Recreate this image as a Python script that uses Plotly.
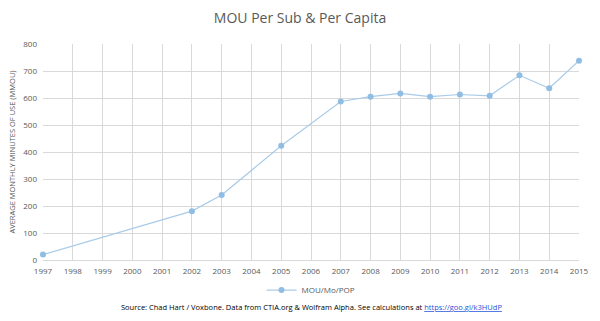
import plotly.graph_objects as go

years = [1997, 2002, 2003, 2005, 2007, 2008, 2009, 2010, 2011, 2012, 2013, 2014, 2015]
mou = [20, 181, 241, 423, 587, 605, 617, 605, 613, 608, 684, 636, 738]
tick_years = list(range(1997, 2016))

fig = go.Figure()
fig.add_trace(go.Scatter(
    x=years, y=mou, mode="lines+markers", name="MOU/Mo/POP",
    line=dict(color="#a9cbe8", width=1.2),
    marker=dict(color="#8fbde3", size=6),
    cliponaxis=False,
))

fig.update_layout(
    width=600, height=321,
    margin=dict(l=43, r=21, t=44, b=61),
    paper_bgcolor="white", plot_bgcolor="white",
    font=dict(family="Open Sans, Liberation Sans, sans-serif", color="#595959", size=8),
    title=dict(text="MOU Per Sub & Per Capita", x=0.5, xanchor="center", y=0.945, yanchor="middle",
               font=dict(size=14, color="#595959")),
    xaxis=dict(range=[1997, 2015], tickvals=tick_years, ticktext=[str(y) for y in tick_years],
               showgrid=True, gridcolor="#d9d9d9", gridwidth=1, zeroline=False,
               showline=True, linecolor="#d9d9d9", ticks="", tickfont=dict(size=8),
               ticklabelstandoff=3),
    yaxis=dict(range=[0, 800], dtick=100, showgrid=True, gridcolor="#d9d9d9", gridwidth=1,
               zeroline=False, showline=False, ticks="", tickfont=dict(size=8),
               ticklabelstandoff=5,
               title=dict(text="AVERAGE MONTHLY MINUTES OF USE (MMOU)", font=dict(size=7.5), standoff=6)),
    legend=dict(orientation="h", x=0.5, xanchor="center", y=-0.072, yanchor="top",
                font=dict(size=8, color="#595959")),
    showlegend=True,
)

fig.add_annotation(
    x=0.5, xref="paper", y=-0.186, yref="paper", yanchor="top", showarrow=False,
    text='Source: Chad Hart / Voxbone. Data from CTIA.org &amp; Wolfram Alpha. See calculations at '
         '<a href="https://goo.gl/k3HUdP" style="color:#1f4fd6"><u>https://goo.gl/k3HUdP</u></a>',
    font=dict(size=7.5, color="#000000"),
)

fig.write_html("out.html")
